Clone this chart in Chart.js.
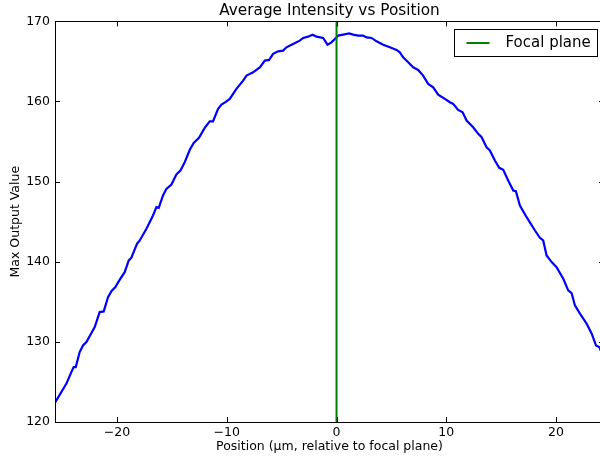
<!DOCTYPE html>
<html>
<head>
<meta charset="utf-8">
<script src="https://cdn.jsdelivr.net/npm/chart.js@4/dist/chart.umd.min.js"></script>
<style>
  html, body { margin: 0; padding: 0; background: #fff; }
  canvas { display: block; }
</style>
</head>
<body>
<canvas id="c" width="600" height="458"></canvas>
<script>
// ---- data ----
const xPos = [-25.65,-24.61,-24.16,-23.95,-23.76,-23.40,-23.10,-22.79,-22.03,-21.58,
  -21.21,-20.82,-20.51,-20.15,-19.75,-19.30,-18.93,-18.69,-18.18,-17.93,
  -17.32,-16.72,-16.41,-16.20,-15.81,-15.50,-15.04,-14.59,-14.22,-13.83,
  -13.37,-13.01,-12.53,-12.01,-11.55,-11.25,-10.79,-10.48,-10.09,-9.73,
  -9.12,-8.51,-8.20,-7.60,-6.99,-6.53,-6.14,-5.78,-5.32,-4.87,
  -4.56,-3.96,-3.35,-3.04,-2.59,-2.19,-1.82,-1.22,-0.82,-0.46,
  -0.15,0.15,0.60,1.15,1.51,1.97,2.42,2.73,3.19,3.65,
  4.25,4.86,5.47,5.77,6.07,6.53,6.98,7.44,7.89,8.35,
  8.81,9.26,9.87,10.33,10.63,11.08,11.49,11.85,12.45,12.91,
  13.22,13.67,13.97,14.43,14.82,15.19,15.64,16.10,16.34,16.71,
  17.32,18.08,18.53,18.83,19.14,19.60,20.05,20.66,21.11,21.42,
  21.72,22.18,22.79,23.25,23.64,23.94,24.30];
const maxOutput = [122.40,124.79,126.23,126.86,126.86,128.73,129.56,129.98,131.85,133.72,
  133.80,135.59,136.33,136.83,137.76,138.70,140.16,140.50,142.24,142.66,
  144.11,145.77,146.81,146.73,148.27,149.10,149.64,150.89,151.38,152.42,
  153.97,154.84,155.46,156.71,157.53,157.53,159.08,159.61,159.95,160.32,
  161.57,162.61,163.23,163.64,164.26,165.10,165.19,165.94,166.26,166.35,
  166.76,167.18,167.59,167.93,168.09,168.34,168.09,167.93,167.09,167.38,
  167.81,168.22,168.34,168.50,168.34,168.22,168.22,168.00,167.93,167.51,
  167.09,166.76,166.43,166.13,165.51,164.89,164.26,163.94,163.23,162.19,
  161.77,160.86,160.32,159.90,159.70,158.95,158.65,157.62,156.78,155.96,
  155.54,154.29,153.88,152.63,151.72,151.47,150.14,148.89,148.80,147.02,
  145.56,143.90,142.99,142.66,140.79,139.95,139.33,137.88,136.42,136.08,
  134.55,133.52,132.27,131.02,129.56,129.35,128.2];
const focalPlaneX = 0;
const xTicks = [-20, -10, 0, 10, 20];
const yTicks = [120, 130, 140, 150, 160, 170];
const xRange = [-25.65, 24.37];
const yRange = [120, 170];
const titleText = 'Average Intensity vs Position';
const xLabel = 'Position (\u00b5m, relative to focal plane)';
const yLabel = 'Max Output Value';
const seriesLabel = 'Max output';
const focalLabel = 'Focal plane';

const FONT = "'DejaVu Sans', 'Liberation Sans', sans-serif";
const fmt = v => (v < 0 ? '\u2212' + Math.abs(v) : String(v));

// The axes box of the original runs a few pixels past the right edge of the image
const AXES_OVERHANG = 4;
const overhangPlugin = {
  id: 'overhang',
  afterLayout(chart) {
    const R = chart.width + AXES_OVERHANG;
    const a = chart.chartArea;
    a.right = R; a.width = R - a.left;
    const x = chart.scales.x;
    x.right = R; x.width = R - x.left; x.configure();
    const t = chart.titleBlock;
    if (t) { t.right = R; t.width = R - t.left; }
  }
};

// Inward ticks on all four sides + frame (matplotlib classic look)
const framePlugin = {
  id: 'frame',
  afterDatasetsDraw(chart) {
    const {ctx, chartArea: a, scales} = chart;
    ctx.save();
    ctx.strokeStyle = '#000';
    ctx.lineWidth = 1;
    ctx.beginPath();
    const L = 5;
    xTicks.forEach(v => {
      const px = Math.round(scales.x.getPixelForValue(v)) + 0.5;
      ctx.moveTo(px, a.bottom); ctx.lineTo(px, a.bottom - L);
      ctx.moveTo(px, a.top); ctx.lineTo(px, a.top + L);
    });
    yTicks.forEach(v => {
      const py = Math.round(scales.y.getPixelForValue(v)) + 0.5;
      ctx.moveTo(a.left, py); ctx.lineTo(a.left + L, py);
      ctx.moveTo(a.right, py); ctx.lineTo(a.right - L, py);
    });
    ctx.stroke();
    ctx.strokeRect(Math.round(a.left) + 0.5, Math.round(a.top) + 0.5,
                   Math.round(a.right - a.left), Math.round(a.bottom - a.top));
    ctx.restore();
  }
};

// Legend box in the upper right of the axes
const legendPlugin = {
  id: 'boxLegend',
  afterDraw(chart) {
    const {ctx, chartArea: a} = chart;
    const ds = chart.data.datasets.find(d => d.label === focalLabel);
    const w = 143, h = 27;
    const left = Math.round(a.right - 7.5 - w) + 0.5;
    const top = Math.round(a.top + 7.5) + 0.5;
    ctx.save();
    ctx.fillStyle = '#fff';
    ctx.fillRect(left, top, w, h);
    ctx.strokeStyle = '#000';
    ctx.lineWidth = 1;
    ctx.strokeRect(left, top, w, h);
    const cy = top + h / 2;
    ctx.strokeStyle = ds.borderColor;
    ctx.lineWidth = ds.borderWidth;
    ctx.beginPath();
    ctx.moveTo(left + 12, cy); ctx.lineTo(left + 35, cy);
    ctx.stroke();
    ctx.fillStyle = '#000';
    ctx.font = '15px ' + FONT;
    ctx.textBaseline = 'middle';
    ctx.textAlign = 'left';
    ctx.fillText(ds.label, left + 51, cy + 0.5);
    ctx.restore();
  }
};

new Chart(document.getElementById('c'), {
  type: 'line',
  data: {
    datasets: [
      {
        label: seriesLabel,
        data: xPos.map((x, i) => ({x, y: maxOutput[i]})),
        borderColor: '#0000ff',
        borderWidth: 2.2,
        pointRadius: 0,
        tension: 0,
        fill: false,
        order: 2
      },
      {
        label: focalLabel,
        data: [{x: focalPlaneX, y: yRange[0]}, {x: focalPlaneX, y: yRange[1]}],
        borderColor: '#008000',
        borderWidth: 2,
        pointRadius: 0,
        fill: false,
        order: 1
      }
    ]
  },
  options: {
    responsive: false,
    animation: false,
    devicePixelRatio: 1,
    layout: { padding: 0 },
    plugins: {
      legend: { display: false },
      tooltip: { enabled: false },
      title: {
        display: true,
        text: titleText,
        fullSize: false,
        color: '#000',
        font: { family: FONT, size: 15.3, weight: 'normal', lineHeight: 1.2 },
        padding: { top: 2, bottom: 1 }
      }
    },
    scales: {
      x: {
        type: 'linear',
        min: xRange[0],
        max: xRange[1],
        grid: { display: false, drawTicks: false },
        border: { display: false },
        afterBuildTicks: s => { s.ticks = xTicks.map(v => ({value: v})); },
        afterFit: s => { s.height = 36; },
        ticks: {
          color: '#000',
          padding: 3,
          maxRotation: 0,
          font: { family: FONT, size: 12.5 },
          callback: v => fmt(v)
        },
        title: {
          display: true,
          text: xLabel,
          color: '#000',
          font: { family: FONT, size: 12.5 },
          padding: { top: 0, bottom: 3.5 }
        }
      },
      y: {
        min: yRange[0],
        max: yRange[1],
        grid: { display: false, drawTicks: false },
        border: { display: false },
        afterBuildTicks: s => { s.ticks = yTicks.map(v => ({value: v})); },
        afterFit: s => { s.width = 55; },
        ticks: {
          color: '#000',
          padding: 5,
          font: { family: FONT, size: 12.5 },
          callback: v => fmt(v)
        },
        title: {
          display: true,
          text: yLabel,
          color: '#000',
          font: { family: FONT, size: 12.5 },
          padding: { top: 8, bottom: 0 }
        }
      }
    }
  },
  plugins: [overhangPlugin, framePlugin, legendPlugin]
});
</script>
</body>
</html>
